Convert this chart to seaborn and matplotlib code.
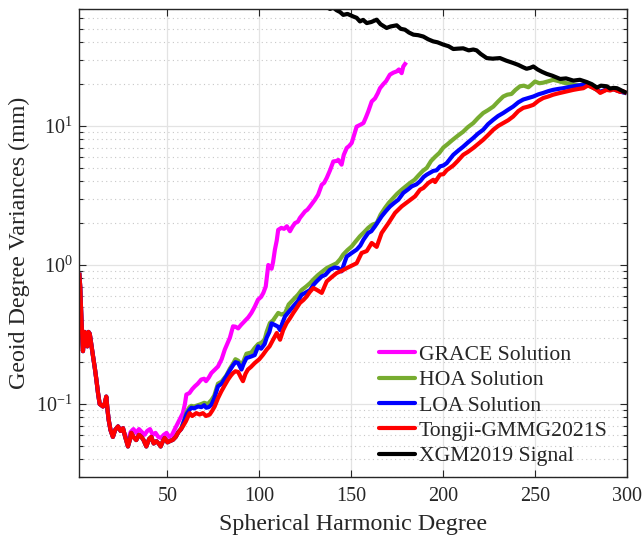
import numpy as np
import pandas as pd
import matplotlib
matplotlib.use("Agg")
import matplotlib.pyplot as plt
from matplotlib.ticker import LogLocator, NullFormatter, FixedLocator
import seaborn as sns

# ---------------- data ----------------
series_names = ["GRACE Solution", "HOA Solution", "LOA Solution",
                "Tongji-GMMG2021S", "XGM2019 Signal"]
series_colors = ["#FF00FF", "#77AC30", "#0000FF", "#FF0000", "#000000"]

# shared low-degree part (all solutions coincide)
base_deg = [2, 2.5, 3.2, 4.0, 4.9, 5.6, 6.4, 7.0, 7.7, 8.5, 9.5, 10.5, 11.3, 12.2,
            13.1, 14.0, 14.9, 15.8, 16.7, 17.4, 18.0, 19.0, 20.3, 21.5, 23.1, 24.5,
            25.8, 27.0]
base_val = [0.88, 0.70, 0.40, 0.24, 0.33, 0.27, 0.26, 0.33, 0.32, 0.27, 0.22, 0.18,
            0.15, 0.12, 0.10, 0.098, 0.096, 0.10, 0.113, 0.09, 0.077, 0.065, 0.058,
            0.065, 0.069, 0.064, 0.067, 0.058]

# shared mid part for HOA / LOA / Tongji
mid_deg = [28.5, 29.5, 30.3, 31.5, 33.0, 34.5, 35.8, 37.0, 38.5, 40.0, 41.2, 42.5,
           44.0, 45.2, 46.3, 47.5, 48.5, 50.0, 51.2, 53.0]
mid_val = [0.0495, 0.055, 0.062, 0.058, 0.055, 0.060, 0.058, 0.055, 0.0495, 0.056,
           0.058, 0.052, 0.054, 0.052, 0.0495, 0.054, 0.057, 0.053, 0.054, 0.0553]

grace_deg = [28.5, 30, 31.5, 33, 34.5, 36, 37.5, 39, 40.5, 42, 43.5, 45, 46.5, 48,
             49.5, 51, 52.5, 54, 55.7, 57, 58.4, 59.5, 60.3, 62, 63.5, 64.9, 66.5,
             68.4, 70, 71, 72.5, 73.9, 75.5, 77.5, 79.5, 81.2, 82.5, 84, 85.7, 87,
             88.5, 90, 92, 94, 95.7, 97.5, 99.3, 101, 102.2, 103.5, 104.9, 105.8,
             106.7, 107.5, 108.5, 109.5, 110.3, 112, 113.5, 115, 116.7, 118, 119.4,
             121, 122.1, 123.5, 124.9, 126.2, 127.6, 129, 130.3, 132, 134, 135.3,
             136.7, 138.5, 140.3, 142, 143, 144.8, 146, 147.6, 149, 150.3, 151.5,
             153, 155, 156.7, 158, 159.3, 161.2, 163, 164.5, 165.7, 167.5, 169,
             171.1, 173, 174.8, 176, 177.5, 178.4, 180]
grace_val = [0.055, 0.063, 0.066, 0.062, 0.066, 0.063, 0.060, 0.064, 0.066, 0.060,
             0.062, 0.058, 0.057, 0.060, 0.062, 0.058, 0.060, 0.066, 0.073, 0.079,
             0.086, 0.10, 0.117, 0.12, 0.128, 0.134, 0.14, 0.15, 0.152, 0.146, 0.155,
             0.167, 0.175, 0.186, 0.21, 0.246, 0.27, 0.30, 0.362, 0.36, 0.35, 0.37,
             0.394, 0.42, 0.452, 0.50, 0.563, 0.59, 0.63, 0.70, 1.0, 0.96, 0.94,
             1.05, 1.29, 1.5, 1.79, 1.85, 1.82, 1.9, 1.75, 1.88, 2.0, 2.05, 2.18,
             2.3, 2.43, 2.5, 2.64, 2.8, 2.95, 3.2, 3.78, 3.9, 4.23, 4.8, 5.56, 5.6,
             5.7, 5.27, 6.2, 6.95, 7.2, 7.55, 8.5, 9.9, 10.2, 10.5, 11.5, 12.7,
             15.0, 15.8, 17.2, 18.7, 20.0, 21.0, 23.4, 24.2, 24.7, 25.5, 24.0, 26.8,
             28.7]

hoa_deg = [54.5, 56, 57.5, 59, 60.5, 62, 63, 64.5, 66.6, 68.5, 70, 72, 74, 75.5,
           77.5, 79.5, 82, 84, 85.7, 87, 88.5, 90.3, 91.5, 93, 95.7, 97.5, 99.4, 101,
           102.9, 104, 105.8, 107.5, 110.3, 112, 114, 116, 118.5, 121, 123, 125.5,
           127.6, 130, 132.1, 134.5, 136.7, 139.5, 142.1, 144, 145.7, 148, 150.3,
           152.5, 154.8, 157, 159.3, 161.5, 163.9, 166, 168.4, 170.5, 172.9, 175,
           177.5, 180, 182, 184.5, 186.6, 189, 191.2, 193.5, 195.7, 198, 200.2,
           202.5, 205, 208, 211, 213.5, 216.5, 219, 221.9, 224.5, 227.4, 230, 232.8,
           235, 237.3, 239.5, 241.9, 244, 246.5, 248.5, 250.1, 252.5, 254.6, 257.5,
           260, 263, 265.5, 268.5, 271, 274, 276.4, 279, 282, 285.6, 289, 292.8,
           296.4, 300]
hoa_val = [0.058, 0.063, 0.067, 0.076, 0.088, 0.095, 0.097, 0.096, 0.098, 0.10,
           0.102, 0.10, 0.107, 0.115, 0.14, 0.145, 0.16, 0.18, 0.195, 0.21, 0.205,
           0.19, 0.205, 0.23, 0.235, 0.253, 0.27, 0.275, 0.29, 0.33, 0.383, 0.40,
           0.452, 0.44, 0.45, 0.52, 0.563, 0.61, 0.66, 0.70, 0.74, 0.80, 0.85, 0.90,
           0.95, 0.99, 1.03, 1.10, 1.19, 1.28, 1.36, 1.48, 1.61, 1.72, 1.85, 1.95,
           2.0, 2.3, 2.57, 2.8, 3.03, 3.25, 3.48, 3.7, 3.89, 4.1, 4.4, 4.75, 5.0,
           5.6, 6.0, 6.4, 7.0, 7.4, 7.9, 8.5, 9.1, 9.8, 10.5, 11.4, 12.4, 13.0, 13.8,
           15.0, 16.3, 16.8, 17.0, 18.2, 19.3, 19.5, 19.0, 20.0, 20.9, 20.3, 20.5,
           21.0, 21.5, 21.0, 20.5, 20.2, 19.8, 19.6, 19.3, 19.5, 18.8, 17.5, 18.3,
           18.4, 17.7, 17.2]

loa_deg = [54.5, 56, 57.5, 59, 60.5, 62, 63, 64.5, 66.6, 68.5, 70, 71.1, 72.5, 74,
           75.5, 77.5, 79.5, 82, 84, 85.7, 87, 88.5, 90.3, 91.5, 93, 95.7, 97.5, 99.4,
           101, 102.9, 104, 105.5, 106.7, 108.5, 110.2, 111.3, 112.5, 114, 116, 118.5,
           121, 123, 125, 127.6, 129.5, 131.2, 134, 136, 138.5, 141, 143, 144.8,
           146.5, 147.6, 150.3, 153, 155, 156.7, 159.3, 161, 163, 166.6, 169, 171.2,
           173.5, 175.7, 178.4, 181, 183, 185.5, 187.5, 189.5, 191.2, 194.7, 196.5,
           198.4, 200.2, 202, 205.6, 208, 211, 213.5, 216.5, 219, 221.9, 224.5, 227.4,
           230, 232.8, 235.5, 238.2, 241, 243.7, 246.5, 249.2, 252, 254.6, 257.3, 260,
           263, 265.5, 268, 271, 274, 276.4, 279, 282, 285.6, 289, 292.8, 296.4, 300]
loa_val = [0.058, 0.063, 0.066, 0.075, 0.085, 0.091, 0.094, 0.093, 0.096, 0.095,
           0.098, 0.094, 0.095, 0.099, 0.11, 0.134, 0.14, 0.158, 0.175, 0.19, 0.20,
           0.197, 0.177, 0.195, 0.214, 0.22, 0.225, 0.26, 0.25, 0.27, 0.30, 0.33,
           0.38, 0.37, 0.36, 0.34, 0.38, 0.427, 0.46, 0.504, 0.55, 0.61, 0.63, 0.66,
           0.72, 0.762, 0.828, 0.85, 0.925, 0.96, 0.95, 0.90, 1.05, 1.15, 1.22, 1.29,
           1.38, 1.52, 1.70, 1.75, 1.9, 2.24, 2.45, 2.64, 2.8, 2.95, 3.3, 3.5, 3.68,
           3.8, 4.0, 4.3, 4.47, 4.75, 4.8, 5.12, 5.2, 5.4, 6.2, 6.6, 7.1, 7.6, 8.2,
           8.8, 9.4, 10.3, 11.1, 11.8, 12.4, 13.1, 13.8, 14.8, 15.5, 15.9, 16.3,
           16.9, 17.3, 17.8, 18.2, 18.5, 18.7, 19.0, 19.3, 19.6, 19.8, 19.8, 18.9,
           17.6, 18.3, 18.4, 17.7, 17.2]

tongji_deg = [54.5, 55.7, 57.0, 58.4, 60.0, 62.1, 63.5, 65.7, 67.5, 69.3, 71.0, 73.0,
              74.5, 75.7, 77.5, 79.3, 81.0, 83.0, 84.5, 85.7, 87.0, 88.5, 90.0, 91.1,
              92.5, 93.8, 95.5, 97.5, 100.0, 102.0, 104.0, 105.6, 107.5, 109.5, 111.3,
              113.0, 114.9, 116.5, 118.5, 120.3, 122.1, 124.0, 125.8, 127.5, 129.4,
              131.5, 134.0, 135.5, 136.7, 139.5, 142.1, 145.0, 147.6, 150.3, 153.0,
              155.7, 158.5, 161.2, 163.9, 166.6, 168.5, 170.3, 173.9, 177.5, 181.2,
              184.8, 187.5, 189.3, 192.0, 194.7, 195.7, 198.4, 200.2, 202.0, 205.6,
              208.0, 211.0, 213.5, 216.5, 219.0, 221.9, 224.5, 227.4, 230.0, 232.8,
              235.5, 238.2, 241.0, 243.7, 246.5, 249.2, 252.0, 254.6, 257.3, 260.0,
              263.0, 265.5, 268.0, 271.0, 274.0, 276.4, 279.0, 282.0, 283.8, 285.6,
              287.5, 289.0, 291.0, 292.8, 294.5, 296.4, 298.0, 300.0]
tongji_val = [0.058, 0.062, 0.065, 0.069, 0.075, 0.086, 0.082, 0.086, 0.084, 0.086,
              0.082, 0.084, 0.09, 0.096, 0.11, 0.123, 0.135, 0.15, 0.16, 0.167, 0.172,
              0.17, 0.155, 0.146, 0.165, 0.177, 0.185, 0.197, 0.21, 0.226, 0.246,
              0.26, 0.29, 0.324, 0.29, 0.34, 0.383, 0.41, 0.452, 0.49, 0.533, 0.56,
              0.594, 0.64, 0.683, 0.66, 0.63, 0.70, 0.762, 0.82, 0.875, 0.91, 0.95,
              0.99, 1.03, 1.22, 1.26, 1.44, 1.35, 1.70, 1.85, 2.0, 2.37, 2.64, 2.87,
              3.12, 3.48, 3.58, 3.89, 4.1, 3.95, 4.47, 4.5, 4.8, 5.2, 5.6, 6.2, 6.5,
              6.95, 7.4, 7.96, 8.6, 9.4, 10.0, 10.5, 11.0, 11.7, 12.8, 13.5, 13.8,
              14.2, 15.2, 15.9, 16.3, 16.8, 17.2, 17.5, 17.8, 18.2, 18.5, 18.7, 19.6,
              18.7, 18.2, 17.3, 17.8, 18.2, 18.0, 18.4, 18.0, 17.6, 17.8, 17.2]

xgm_deg = [128, 132, 135.5, 138.5, 140.3, 142.1, 144, 145.7, 148, 151.2, 153, 154.8,
           156.5, 158.5, 161, 163.9, 166, 169.3, 171.5, 174.8, 177, 179.3, 181.5,
           183.9, 186.5, 189.3, 192, 194.7, 197, 200.2, 203, 205.6, 208, 211, 214,
           216.5, 218.3, 220.5, 223.8, 227, 231, 234.5, 238.2, 241, 243.5, 245.5,
           247.5, 249.2, 251.5, 254, 256.5, 259.5, 263.8, 267, 271, 274.5, 278.3,
           281, 283.8, 286, 289.2, 291, 292.8, 294.7, 296.5, 298.3, 300]
xgm_val = [85, 80, 73, 69.5, 71, 68, 66, 63, 64, 61.3, 60, 56.5, 58, 55, 56, 58.2, 54,
           50.7, 52, 53, 50, 49.3, 47, 45.4, 45, 44, 42, 40.6, 40, 38.5, 37.5, 35.8,
           36, 36.2, 35, 35.5, 35, 33, 30.8, 30.5, 30.8, 29.5, 28.4, 27.5, 26.5, 25.8,
           26.2, 26.8, 25.5, 24.5, 23.7, 23.0, 21.8, 22.0, 21.2, 21.5, 20.7, 20.0,
           18.9, 19.5, 19.3, 18.6, 18.8, 18.7, 18.2, 17.7, 17.3]

x_ticks = [50, 100, 150, 200, 250, 300]

# ---------------- assemble long-form table ----------------
curves = {
    "GRACE Solution": (base_deg + grace_deg, base_val + grace_val),
    "HOA Solution": (base_deg + mid_deg + hoa_deg, base_val + mid_val + hoa_val),
    "LOA Solution": (base_deg + mid_deg + loa_deg, base_val + mid_val + loa_val),
    "Tongji-GMMG2021S": (base_deg + mid_deg + tongji_deg,
                         base_val + mid_val + tongji_val),
    "XGM2019 Signal": (xgm_deg, xgm_val),
}
frames = []
for name in series_names:
    d, v = curves[name]
    frames.append(pd.DataFrame({"degree": d, "value": v, "series": name}))
df = pd.concat(frames, ignore_index=True)

# ---------------- style ----------------
sns.set_style("ticks")
plt.rcParams["font.family"] = ["Liberation Serif", "DejaVu Serif"]
plt.rcParams["mathtext.fontset"] = "custom"
plt.rcParams["mathtext.rm"] = "Liberation Serif"
plt.rcParams["mathtext.it"] = "Liberation Serif:italic"
plt.rcParams["mathtext.bf"] = "Liberation Serif:bold"
plt.rcParams["text.color"] = "#262626"
plt.rcParams["axes.labelcolor"] = "#262626"

fig = plt.figure(figsize=(6.44, 5.39), dpi=100)
ax = fig.add_axes([0.1231, 0.1156, 0.8500, 0.8686])

sns.lineplot(data=df, x="degree", y="value", hue="series", hue_order=series_names,
             palette=series_colors, estimator=None, sort=False, units="series",
             linewidth=3.0, ax=ax, legend=False)
for ln in ax.get_lines():
    ln.set_solid_joinstyle("round")
    ln.set_solid_capstyle("butt")

ax.set_yscale("log")
ax.set_xlim(2, 300)
ax.set_ylim(0.03, 70)
ax.xaxis.set_major_locator(FixedLocator(x_ticks))
ax.yaxis.set_major_locator(LogLocator(base=10, numticks=10))
ax.yaxis.set_minor_locator(LogLocator(base=10, subs=np.arange(2, 10), numticks=20))
ax.yaxis.set_minor_formatter(NullFormatter())

ax.grid(which="major", color="#e3e3e3", linewidth=0.9, linestyle="-")
ax.grid(which="minor", axis="y", color="#c8c8c8", linewidth=0.8, linestyle=(0, (1, 3)))
ax.set_axisbelow(True)

ax.tick_params(which="both", direction="in", top=True, right=True,
               colors="#262626", labelsize=14.5, width=0.8)
ax.tick_params(which="major", length=5, pad=5)
ax.tick_params(axis="x", which="major", pad=7.5)
ax.tick_params(which="minor", length=3)
for sp in ax.spines.values():
    sp.set_color("#262626")
    sp.set_linewidth(1.0)

ax.set_xlabel("Spherical Harmonic Degree", fontsize=17.3, labelpad=6)
ax.set_ylabel("Geoid Degree Variances (mm)", fontsize=17.3, labelpad=4)

handles = [plt.Line2D([], [], color=c, lw=3.0) for c in series_colors]
ax.legend(handles, series_names, loc="lower left", bbox_to_anchor=(0.5475, 0.022),
          frameon=False, fontsize=15.6, handlelength=1.65, handletextpad=0.2,
          labelspacing=0.24, borderpad=0, borderaxespad=0)

fig.savefig("out.png", dpi=100)
